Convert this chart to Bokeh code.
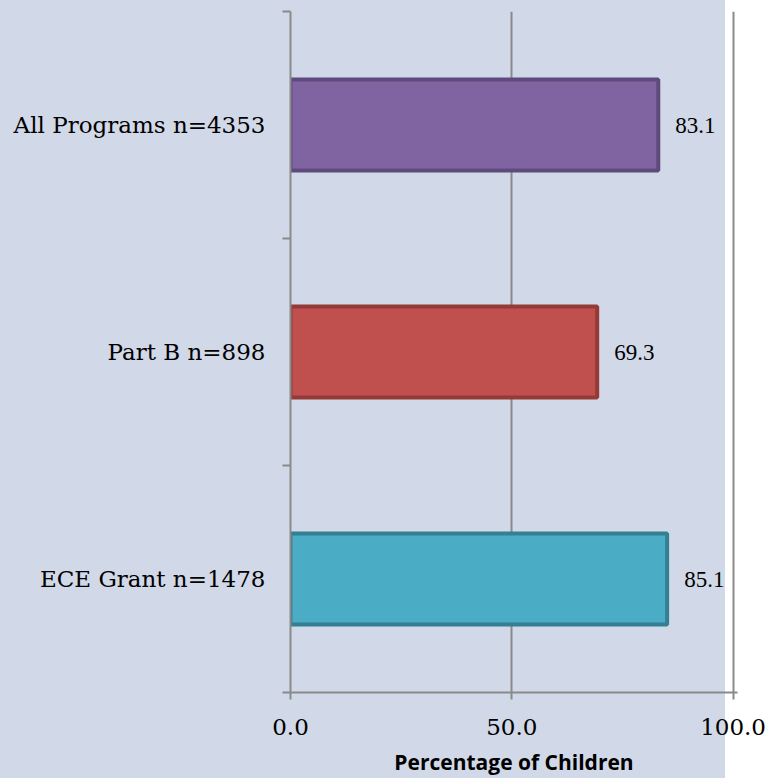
from bokeh.plotting import figure
from bokeh.models import Range1d, FixedTicker, ColumnDataSource, LabelSet
from bokeh.embed import file_html
from bokeh.resources import INLINE

# ---- data ----
categories = ["ECE Grant n=1478", "Part B n=898", "All Programs n=4353"]
percentages = [85.1, 69.3, 83.1]
value_labels = ["85.1", "69.3", "83.1"]
fill_colors = ["#4BACC6", "#C0504D", "#8064A2"]
line_colors = ["#357F93", "#943A37", "#5E4A7C"]
x_ticks = [0, 50, 100]
x_tick_labels = ["0.0", "50.0", "100.0"]

positions = [i + 0.5 for i in range(len(categories))]
boundaries = list(range(len(categories) + 1))

SERIF = "DejaVu Serif"
AXIS_GRAY = "#8A8A8A"

p = figure(width=771, height=778, output_backend="svg", toolbar_location=None,
           x_range=Range1d(0, 101), y_range=Range1d(0, len(categories)))
p.min_border_left = 290
p.min_border_top = 11
p.min_border_bottom = 84
p.min_border_right = 34
p.border_fill_color = None
p.background_fill_color = None
p.outline_line_color = None
p.styles = {"background": "linear-gradient(to right, #D1D8E7 725px, #FFFFFF 725px)"}

src = ColumnDataSource(dict(y=positions, x=percentages, fill=fill_colors,
                            line=line_colors, lab=value_labels))
p.hbar(y="y", left=0, right="x", height=0.40, fill_color="fill",
       line_color="line", line_width=4, source=src)

labels = LabelSet(x="x", y="y", text="lab", source=src, x_offset=17,
                  text_align="left", text_baseline="middle",
                  text_font=SERIF, text_font_size="23px", text_color="#000000")
p.add_layout(labels)

# x axis
p.xaxis.ticker = FixedTicker(ticks=x_ticks)
p.xaxis.major_label_overrides = {t: l for t, l in zip(x_ticks, x_tick_labels)}
p.xaxis.major_label_text_font = SERIF
p.xaxis.major_label_text_font_size = "23px"
p.xaxis.major_label_text_color = "#000000"
p.xaxis.major_label_standoff = 19
p.xaxis.major_tick_in = 0
p.xaxis.major_tick_out = 7
p.xaxis.minor_tick_line_color = None
p.xaxis.axis_line_color = AXIS_GRAY
p.xaxis.axis_line_width = 2
p.xaxis.major_tick_line_color = AXIS_GRAY
p.xaxis.major_tick_line_width = 2
p.xaxis.axis_label = "Percentage of Children"
p.xaxis.axis_label_text_font = "Open Sans"
p.xaxis.axis_label_text_font_style = "bold"
p.xaxis.axis_label_text_font_size = "21px"
p.xaxis.axis_label_text_color = "#000000"
p.xaxis.axis_label_standoff = 10

# y axis: labels at centres, ticks at boundaries (minor ticks)
p.yaxis.ticker = FixedTicker(ticks=positions, minor_ticks=boundaries)
p.yaxis.major_label_overrides = {pos: c for pos, c in zip(positions, categories)}
p.yaxis.major_label_text_font = SERIF
p.yaxis.major_label_text_font_size = "23px"
p.yaxis.major_label_text_color = "#000000"
p.yaxis.major_label_standoff = 17
p.yaxis.major_tick_line_color = None
p.yaxis.minor_tick_in = 0
p.yaxis.minor_tick_out = 8
p.yaxis.minor_tick_line_color = AXIS_GRAY
p.yaxis.minor_tick_line_width = 2
p.yaxis.axis_line_color = AXIS_GRAY
p.yaxis.axis_line_width = 2

p.ygrid.grid_line_color = None
p.xgrid.ticker = FixedTicker(ticks=x_ticks)
p.xgrid.grid_line_color = AXIS_GRAY
p.xgrid.grid_line_width = 2

open("out.html", "w").write(file_html(p, INLINE))
